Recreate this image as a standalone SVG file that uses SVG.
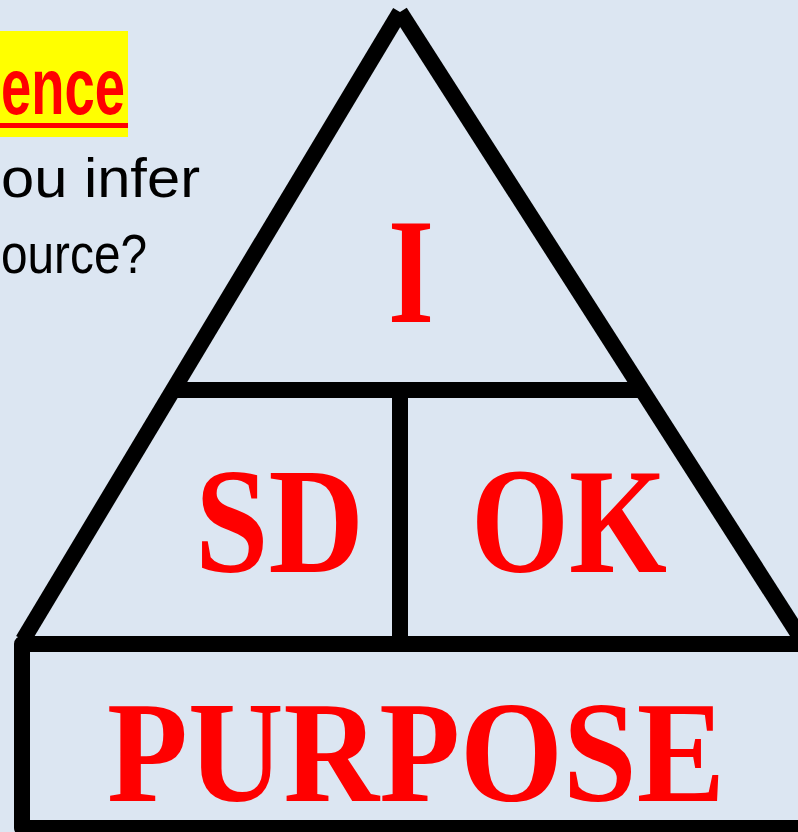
<svg xmlns="http://www.w3.org/2000/svg" width="798" height="832" viewBox="0 0 798 832">
<style>
.ln{stroke:#000;stroke-width:16;fill:none;stroke-linecap:butt}
.big{font-family:"Liberation Serif","DejaVu Serif",serif;font-weight:bold;fill:#FF0000}
.body{font-family:"Liberation Sans","Open Sans",sans-serif;fill:#000}
</style>
<rect width="798" height="832" fill="#DCE6F2"/>
<g id="heading">
<rect x="0" y="31" width="128" height="106" fill="#FFFF00"/>
<text x="1" y="114" class="body" style="font-weight:bold;fill:#FF0000" font-size="80" textLength="124" lengthAdjust="spacingAndGlyphs">ence</text>
<rect x="0" y="123" width="128" height="5" fill="#FF0000"/>
<text x="1" y="197" class="body" font-size="55" textLength="199" lengthAdjust="spacingAndGlyphs">ou infer</text>
<text x="1" y="273" class="body" font-size="55" textLength="146" lengthAdjust="spacingAndGlyphs">ource?</text>
</g>
<g id="frame">
<line class="ln" x1="23" y1="640" x2="400" y2="12"/>
<line class="ln" x1="400" y1="12" x2="802" y2="640"/>
<line class="ln" x1="175" y1="390" x2="640" y2="390"/>
<line class="ln" x1="400" y1="390" x2="400" y2="644"/>
<rect class="ln" x="22" y="644" width="800" height="184" stroke-linejoin="round"/>
</g>
<g id="node-I">
<text x="388" y="322" class="big" font-size="150" textLength="46" lengthAdjust="spacingAndGlyphs">I</text>
</g>
<g id="node-SD">
<text x="195" y="572" class="big" font-size="150" textLength="169" lengthAdjust="spacingAndGlyphs">SD</text>
</g>
<g id="node-OK">
<text x="471" y="572" class="big" font-size="150" textLength="196" lengthAdjust="spacingAndGlyphs">OK</text>
</g>
<g id="node-PURPOSE">
<text x="107" y="801" class="big" font-size="145" textLength="618" lengthAdjust="spacingAndGlyphs">PURPOSE</text>
</g>
</svg>
